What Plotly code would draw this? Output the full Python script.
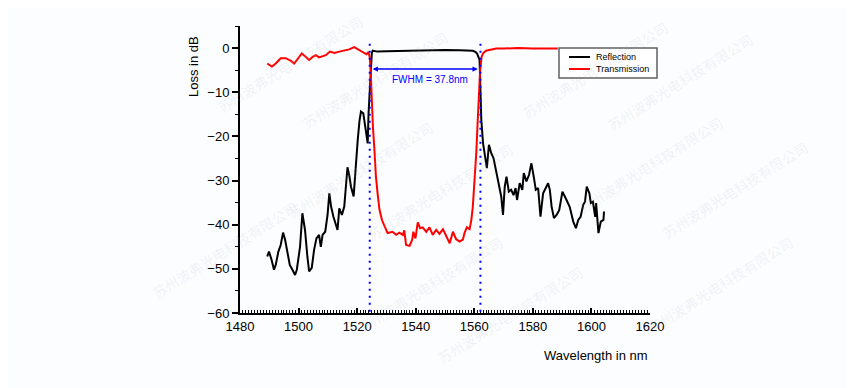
import plotly.graph_objects as go

# ---------------- data ----------------
refl_wl = [1489.3, 1489.9, 1490.8, 1491.6, 1492.2, 1493.1, 1493.9, 1494.7, 1495.4, 1496.2,
           1497.0, 1497.9, 1498.8, 1499.4, 1500.0, 1500.5, 1501.3, 1502.2, 1503.0, 1503.6,
           1504.5, 1505.3, 1506.1, 1507.0, 1507.6, 1508.2, 1509.1, 1509.9, 1510.5, 1511.1,
           1511.9, 1512.5, 1513.3, 1513.9, 1514.8, 1515.6, 1516.2, 1516.7, 1517.3, 1517.9,
           1518.8, 1519.4, 1520.2, 1520.8, 1521.3, 1522.1, 1522.6, 1523.0, 1523.6, 1523.9,
           1524.4, 1524.7, 1525.0, 1525.3, 1527.0, 1530.0, 1535.0, 1540.0, 1545.0, 1550.0,
           1555.0, 1558.0, 1559.5, 1560.5, 1561.0, 1561.8, 1562.1, 1562.4, 1563.0, 1563.9,
           1564.3, 1565.0, 1565.8, 1566.6, 1567.5, 1568.4, 1569.2, 1569.8, 1570.4, 1571.0,
           1571.8, 1572.6, 1573.4, 1574.1, 1574.6, 1575.5, 1576.4, 1576.9, 1577.8, 1578.7,
           1579.5, 1580.3, 1581.0, 1581.8, 1582.6, 1583.5, 1584.4, 1585.2, 1585.8, 1586.4,
           1587.2, 1588.1, 1589.0, 1590.1, 1591.5, 1592.6, 1593.8, 1594.7, 1595.5, 1596.3,
           1597.2, 1597.8, 1598.4, 1599.3, 1599.8, 1600.5, 1601.3, 1601.6, 1602.4, 1603.2,
           1604.1, 1604.3]
refl_db = [-47.2, -46.1, -48.0, -50.2, -49.1, -46.1, -44.6, -41.8, -43.4, -46.1,
           -49.1, -50.2, -51.4, -50.2, -46.8, -45.0, -37.4, -41.2, -47.2, -50.6,
           -49.8, -45.7, -43.1, -42.3, -45.0, -42.3, -41.6, -37.8, -32.9, -35.9,
           -38.2, -39.7, -41.2, -36.3, -37.8, -35.9, -31.5, -27.0, -28.8, -31.4,
           -33.6, -27.6, -20.8, -16.5, -14.4, -14.8, -17.0, -19.3, -21.6, -14.8,
           -8.8, -4.0, -1.2, -0.6, -0.8, -0.7, -0.6, -0.5, -0.5, -0.45,
           -0.5, -0.55, -0.6, -0.9, -1.3, -2.7, -8.0, -16.3, -21.6, -26.1,
           -27.2, -21.9, -23.8, -25.0, -28.3, -31.4, -33.6, -37.8, -31.4, -29.1,
           -32.5, -32.1, -33.3, -31.7, -34.4, -30.6, -32.1, -28.3, -30.2, -28.7,
           -26.1, -29.1, -32.1, -31.7, -38.2, -32.9, -31.7, -30.6, -32.1, -35.9,
           -38.5, -37.8, -36.7, -32.5, -34.4, -36.0, -39.3, -40.8, -38.9, -38.2,
           -35.5, -34.8, -31.4, -32.9, -35.1, -34.8, -38.2, -35.1, -41.9, -39.3,
           -38.9, -37.0]

trans_wl = [1489.3, 1490.9, 1492.2, 1493.9, 1495.6, 1497.4, 1498.5, 1500.0, 1501.1, 1502.5,
            1503.6, 1504.8, 1505.9, 1507.0, 1508.2, 1509.3, 1510.7, 1512.2, 1513.9, 1515.6,
            1517.3, 1519.0, 1520.7, 1522.5, 1523.2, 1523.8, 1524.3, 1524.6, 1525.0, 1525.4,
            1525.9, 1526.4, 1527.0, 1527.6, 1528.5, 1529.3, 1530.4, 1532.1, 1533.3, 1534.4,
            1535.6, 1536.1, 1536.7, 1537.9, 1538.8, 1539.2, 1539.9, 1540.7, 1541.5, 1542.4,
            1543.6, 1544.7, 1545.8, 1547.0, 1548.1, 1549.3, 1550.2, 1551.0, 1551.6, 1552.7,
            1553.8, 1555.0, 1556.1, 1556.7, 1557.5, 1558.4, 1559.0, 1559.5, 1560.1, 1560.7,
            1561.2, 1561.6, 1562.0, 1562.5, 1563.0, 1564.0, 1565.2, 1567.5, 1570.0, 1575.0,
            1580.0, 1585.0, 1588.5]
trans_db = [-3.5, -4.2, -3.5, -2.3, -2.3, -2.9, -3.5, -2.3, -1.2, -2.0,
            -2.7, -2.0, -1.6, -2.1, -1.8, -1.6, -0.8, -1.1, -0.8, -0.6,
            -0.3, 0.2, -0.45, -1.1, -1.4, -0.9, -2.0, -5.0, -12.0, -18.0,
            -23.0, -29.0, -33.0, -36.5, -39.0, -40.4, -41.9, -41.6, -42.3, -41.8,
            -42.3, -41.3, -44.6, -44.8, -43.4, -41.6, -43.1, -39.5, -40.8, -40.6,
            -41.6, -40.6, -42.3, -41.2, -42.1, -41.0, -42.3, -43.1, -44.2, -41.6,
            -43.3, -43.8, -43.4, -41.8, -40.6, -41.0, -38.9, -35.9, -29.9, -23.5,
            -16.0, -10.0, -5.0, -2.0, -1.2, -0.6, -0.45, -0.1, -0.1, 0.0,
            -0.1, -0.1, -0.1]

series_names = ["Reflection", "Transmission"]
series_colors = ["black", "#ff0000"]

fwhm_edges = [1524.3, 1562.1]
fwhm_level = -4.75
fwhm_label = "FWHM = 37.8nm"

x_ticks = [1480, 1500, 1520, 1540, 1560, 1580, 1600, 1620]
y_ticks = [0, -10, -20, -30, -40, -50, -60]

watermark = "苏州波弗光电科技有限公司"
# watermark centres in page pixels (layout only), kept fully inside the page
wm_centres = [(290, 64), (375, 80), (595, 70), (680, 82), (360, 170), (440, 192),
              (650, 165), (735, 190), (430, 285), (510, 315), (720, 285), (225, 250)]

# ---------------- figure ----------------
FONT = "Arial, Liberation Sans, sans-serif"
OFF = 8                       # page body margin
W, H = 846, 380
AX_L, AX_R, AX_T, AX_B = 240, 650, 26, 313   # plot area in page pixels
L, T = AX_L - OFF, AX_T - OFF
R, B = OFF + W - AX_R, OFF + H - AX_B


def px2paper(px, py):
    return (px - AX_L) / (AX_R - AX_L), (AX_B - py) / (AX_B - AX_T)


fig = go.Figure()
fig.add_trace(go.Scatter(x=refl_wl, y=refl_db, mode="lines", name=series_names[0],
                         line=dict(color=series_colors[0], width=2)))
fig.add_trace(go.Scatter(x=trans_wl, y=trans_db, mode="lines", name=series_names[1],
                         line=dict(color=series_colors[1], width=2)))

# faint diagonal watermarks
for cx, cy in wm_centres:
    xp, yp = px2paper(cx, cy)
    fig.add_annotation(x=xp, y=yp, xref="paper", yref="paper", text=watermark,
                       xanchor="center", yanchor="middle",
                       showarrow=False, textangle=-32,
                       font=dict(family="Noto Sans CJK SC", size=14, color="rgba(170,180,190,0.16)"))

for xv in fwhm_edges:
    fig.add_shape(type="line", x0=xv, x1=xv, y0=1.0, y1=-60, xref="x", yref="y",
                  line=dict(color="#0000ff", width=2, dash="2px,5px"))

fig.add_annotation(x=fwhm_edges[0] + 1.0, y=fwhm_level, ax=fwhm_edges[1] - 0.4, ay=fwhm_level,
                   xref="x", yref="y", axref="x", ayref="y", text="", showarrow=True,
                   arrowhead=2, arrowside="end+start", arrowsize=0.7, arrowwidth=1.5,
                   arrowcolor="#0000ff")
fig.add_annotation(x=sum(fwhm_edges) / 2 + 1.8, y=-7.1, xref="x", yref="y", text=fwhm_label,
                   showarrow=False, font=dict(family=FONT, size=10, color="#0000ff"))

# axis titles
xp, yp = px2paper(193, 67)
fig.add_annotation(x=xp, y=yp, xref="paper", yref="paper", text="Loss in dB", textangle=-90,
                   xanchor="center", yanchor="middle",
                   showarrow=False, font=dict(family=FONT, size=13, color="black"))
xp, yp = px2paper(596, 355)
fig.add_annotation(x=xp, y=yp, xref="paper", yref="paper", text="Wavelength in nm",
                   xanchor="center", yanchor="middle",
                   showarrow=False, font=dict(family=FONT, size=13, color="black"))

# compact framed legend (matches the original's small key box)
x0, y0 = px2paper(559, 48)
x1, y1 = px2paper(657, 78)
fig.add_shape(type="rect", xref="paper", yref="paper", x0=x0, x1=x1, y0=y1, y1=y0,
              fillcolor="white", line=dict(color="#606060", width=1.5), layer="above")
for i, (nm, col) in enumerate(zip(series_names, series_colors)):
    ry = 57 + 12 * i
    lx0, ly = px2paper(569, ry)
    lx1, _ = px2paper(590, ry)
    fig.add_shape(type="line", xref="paper", yref="paper", x0=lx0, x1=lx1, y0=ly, y1=ly,
                  line=dict(color=col, width=2), layer="above")
    tx, _ = px2paper(594, ry)
    fig.add_annotation(x=tx, y=ly, xref="paper", yref="paper", text=nm, showarrow=False,
                       xanchor="left", yanchor="middle",
                       font=dict(family=FONT, size=9, color="black"))

fig.update_layout(
    width=W, height=H, margin=dict(l=L, r=R, t=T, b=B),
    paper_bgcolor="#fcfdfe", plot_bgcolor="rgba(0,0,0,0)",
    font=dict(family=FONT, size=13, color="black"),
    showlegend=False,
    xaxis=dict(range=[1480, 1620], tickvals=x_ticks, showgrid=False, zeroline=False,
               showline=True, linecolor="black", linewidth=2, ticks="inside", ticklen=5,
               tickwidth=1.5, tickcolor="black", mirror=False,
               minor=dict(dtick=1, ticks="inside", ticklen=3, tickwidth=1, tickcolor="black"),
               tickfont=dict(size=13)),
    yaxis=dict(range=[-60, 5], tickvals=y_ticks, showgrid=False, zeroline=False,
               showline=True, linecolor="black", linewidth=2, ticks="outside", ticklen=6,
               tickwidth=1.5, tickcolor="black", mirror=False,
               minor=dict(dtick=5, tick0=0, ticks="outside", ticklen=3, tickwidth=1, tickcolor="black"),
               tickfont=dict(size=13)),
)

fig.write_html("out.html")
